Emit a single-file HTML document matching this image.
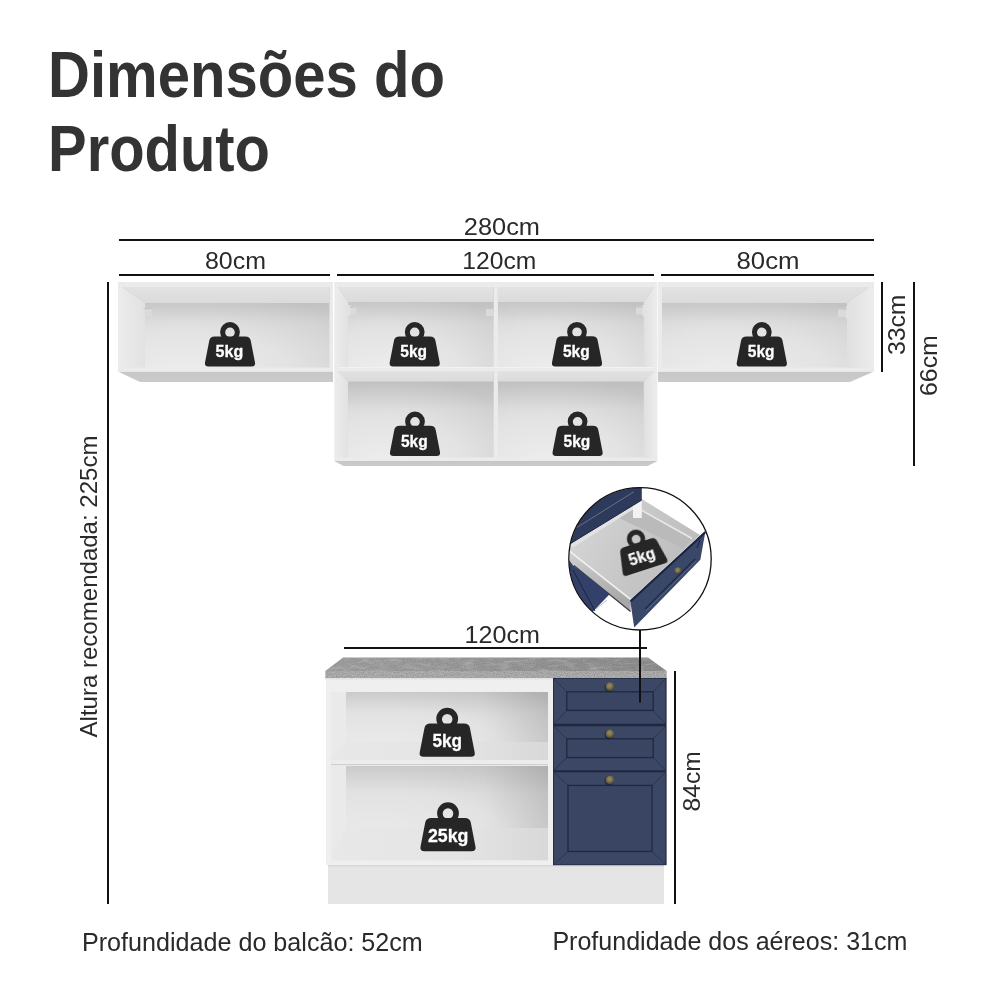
<!DOCTYPE html>
<html><head><meta charset="utf-8">
<style>
html,body{margin:0;padding:0;background:#fff;width:1000px;height:1000px;overflow:hidden}
svg{display:block;will-change:transform}
text{font-family:"Liberation Sans",sans-serif}
</style></head>
<body>
<svg width="1000" height="1000" viewBox="0 0 1000 1000">
<defs>
  <symbol id="wt" overflow="visible">
    <path fill="#262626" d="M -15.3,-30.2 L 15.3,-30.2 Q 19.9,-30.2 20.7,-26 L 25,-4 Q 25.7,0 21.5,0 L -21.5,0 Q -25.7,0 -25,-4 L -20.7,-26 Q -19.9,-30.2 -15.3,-30.2 Z"/>
    <path fill="#262626" fill-rule="evenodd" d="M -9.9,-34.6 A 9.9 9.9 0 1 1 9.9,-34.6 A 9.9 9.9 0 1 1 -9.9,-34.6 Z M -4.8,-34.2 A 4.8 4.8 0 1 1 4.8,-34.2 A 4.8 4.8 0 1 1 -4.8,-34.2 Z"/>
  </symbol>
  <radialGradient id="backA" cx="0.3" cy="1.05" r="1.0">
    <stop offset="0" stop-color="#ededed"/><stop offset="0.5" stop-color="#e3e3e3"/><stop offset="1" stop-color="#cdcdcd"/>
  </radialGradient>
  <linearGradient id="backTop" x1="0" y1="0" x2="0" y2="1">
    <stop offset="0" stop-color="#000" stop-opacity="0.1"/><stop offset="0.45" stop-color="#000" stop-opacity="0"/>
  </linearGradient>
  <linearGradient id="ceil" x1="0" y1="0" x2="0" y2="1">
    <stop offset="0" stop-color="#e2e2e2"/><stop offset="1" stop-color="#dbdbdb"/>
  </linearGradient>
  <linearGradient id="sideL" x1="0" y1="0" x2="1" y2="0">
    <stop offset="0" stop-color="#eaeaea"/><stop offset="1" stop-color="#e2e2e2"/>
  </linearGradient>
  <linearGradient id="sideR" x1="1" y1="0" x2="0" y2="0">
    <stop offset="0" stop-color="#eaeaea"/><stop offset="1" stop-color="#e0e0e0"/>
  </linearGradient>
  <linearGradient id="under" x1="0" y1="0" x2="0" y2="1">
    <stop offset="0" stop-color="#c6c6c6"/><stop offset="1" stop-color="#cbcbcb"/>
  </linearGradient>
  <linearGradient id="ctop" x1="0" y1="0" x2="1" y2="0">
    <stop offset="0" stop-color="#a0a0a0"/><stop offset="0.5" stop-color="#989898"/><stop offset="1" stop-color="#8c8c8c"/>
  </linearGradient>
  <linearGradient id="cfront" x1="0" y1="0" x2="1" y2="0">
    <stop offset="0" stop-color="#ababab"/><stop offset="1" stop-color="#aaaaaa"/>
  </linearGradient>
  <radialGradient id="backD" cx="0.2" cy="0.9" r="1.15">
    <stop offset="0" stop-color="#ececec"/><stop offset="0.55" stop-color="#e2e2e2"/><stop offset="1" stop-color="#c9c9c9"/>
  </radialGradient>
  <linearGradient id="floorD" x1="0" y1="0" x2="1" y2="0">
    <stop offset="0" stop-color="#e8e8e8"/><stop offset="0.6" stop-color="#e4e4e4"/><stop offset="1" stop-color="#d8d8d8"/>
  </linearGradient>
  <linearGradient id="rdark" x1="0" y1="0" x2="1" y2="0">
    <stop offset="0.7" stop-color="#000" stop-opacity="0"/><stop offset="1" stop-color="#000" stop-opacity="0.08"/>
  </linearGradient>
  <radialGradient id="knob" cx="0.45" cy="0.4" r="0.6">
    <stop offset="0" stop-color="#9a8f68"/><stop offset="0.55" stop-color="#7a6f4b"/><stop offset="1" stop-color="#4a432c"/>
  </radialGradient>
  <linearGradient id="dfloor" x1="0" y1="0" x2="1" y2="0.4">
    <stop offset="0" stop-color="#d8d8d8"/><stop offset="0.5" stop-color="#cacaca"/><stop offset="1" stop-color="#bdbdbd"/>
  </linearGradient>
  <linearGradient id="dwall" x1="0" y1="0" x2="0.3" y2="1">
    <stop offset="0" stop-color="#d0d0d0"/><stop offset="1" stop-color="#a8a8a8"/>
  </linearGradient>
  <filter id="noise" x="0" y="0" width="1" height="1">
    <feTurbulence type="fractalNoise" baseFrequency="0.9" numOctaves="2" seed="3" result="n"/>
    <feColorMatrix in="n" type="matrix" values="0 0 0 0 0  0 0 0 0 0  0 0 0 0 0  0 0 0 0.35 -0.12" result="a"/>
    <feComposite in="a" in2="SourceAlpha" operator="in"/>
  </filter>
  <filter id="noise2" x="0" y="0" width="1" height="1">
    <feTurbulence type="fractalNoise" baseFrequency="0.9" numOctaves="2" seed="7" result="n"/>
    <feColorMatrix in="n" type="matrix" values="0 0 0 0 1  0 0 0 0 1  0 0 0 0 1  0 0 0 0.4 -0.15" result="a"/>
    <feComposite in="a" in2="SourceAlpha" operator="in"/>
  </filter>
  <filter id="blotch" x="0" y="0" width="1" height="1">
    <feTurbulence type="fractalNoise" baseFrequency="0.08 0.3" numOctaves="3" seed="11" result="n"/>
    <feColorMatrix in="n" type="matrix" values="0 0 0 0 1  0 0 0 0 1  0 0 0 0 1  0 0 0 0.9 -0.4" result="a"/>
    <feComposite in="a" in2="SourceAlpha" operator="in"/>
  </filter>
  <filter id="blur1" x="-0.2" y="-0.2" width="1.4" height="1.4"><feGaussianBlur stdDeviation="0.45"/></filter>
  <clipPath id="circ"><circle cx="640" cy="558.8" r="71"/></clipPath>
</defs>

<!-- Title -->
<text x="48" y="97" font-size="64" font-weight="bold" fill="#333" textLength="397" lengthAdjust="spacingAndGlyphs">Dimensões do</text>
<text x="48" y="171" font-size="64" font-weight="bold" fill="#333" textLength="222" lengthAdjust="spacingAndGlyphs">Produto</text>

<!-- dimension lines -->
<g fill="#111">
  <rect x="119" y="239" width="755" height="2"/>
  <rect x="119" y="274" width="211" height="2"/>
  <rect x="337" y="274" width="317" height="2"/>
  <rect x="661" y="274" width="213" height="2"/>
  <rect x="881" y="282" width="2" height="90"/>
  <rect x="913" y="282" width="2" height="184"/>
  <rect x="107" y="282" width="2" height="622"/>
  <rect x="344" y="647" width="303" height="2"/>
  <rect x="674" y="671" width="2" height="233"/>
</g>

<!-- dimension labels -->
<g fill="#2a2a2a" font-size="24">
  <text x="463.8" y="234.5" textLength="76.2" lengthAdjust="spacingAndGlyphs">280cm</text>
  <text x="205" y="269.3" textLength="61" lengthAdjust="spacingAndGlyphs">80cm</text>
  <text x="462.3" y="269" textLength="74" lengthAdjust="spacingAndGlyphs">120cm</text>
  <text x="736.5" y="269" textLength="63" lengthAdjust="spacingAndGlyphs">80cm</text>
  <text x="464.6" y="642.6" textLength="75.4" lengthAdjust="spacingAndGlyphs">120cm</text>
  <text transform="translate(904.6,355) rotate(-90)" textLength="60.4" lengthAdjust="spacingAndGlyphs">33cm</text>
  <text transform="translate(936.6,396) rotate(-90)" textLength="60.8" lengthAdjust="spacingAndGlyphs">66cm</text>
  <text transform="translate(700,811.5) rotate(-90)" textLength="60.2" lengthAdjust="spacingAndGlyphs">84cm</text>
</g>
<text transform="translate(97,737.5) rotate(-90)" font-size="24" fill="#2a2a2a" textLength="302" lengthAdjust="spacingAndGlyphs">Altura recomendada: 225cm</text>
<text x="82" y="950.6" font-size="25" fill="#2a2a2a" textLength="340.8" lengthAdjust="spacingAndGlyphs">Profundidade do balcão: 52cm</text>
<text x="552.4" y="949.6" font-size="25" fill="#2a2a2a" textLength="355" lengthAdjust="spacingAndGlyphs">Profundidade dos aéreos: 31cm</text>

<!-- Cabinet A (left wall) -->
<g>
  <polygon points="118,371.5 333,371.5 333,382 140,382" fill="url(#under)"/>
  <rect x="118" y="282" width="215" height="89.5" fill="#ebebeb"/>
  <rect x="122" y="287" width="207.5" height="80.5" fill="url(#backA)"/>
  <rect x="122" y="287" width="207.5" height="80.5" fill="url(#backTop)"/>
  <polygon points="122,287 329.5,287 329.5,303 145,303" fill="url(#ceil)"/>
  <polygon points="122,287 145,303 145,367.5 122,367.5" fill="url(#sideL)"/>
</g>
<!-- Cabinet B (middle) -->
<g>
  <polygon points="334.3,461 657.4,461 647.6,466 343.6,466" fill="url(#under)"/>
  <rect x="334.3" y="282" width="323.1" height="179" fill="#ebebeb"/>
  <rect x="338" y="287" width="155.7" height="80" fill="url(#backA)"/>
  <rect x="338" y="287" width="155.7" height="80" fill="url(#backTop)"/>
  <polygon points="338,287 493.7,287 493.7,302 348,302" fill="url(#ceil)"/>
  <polygon points="338,287 348,302 348,367 338,367" fill="url(#sideL)"/>
  <rect x="497.9" y="287" width="156.1" height="80" fill="url(#backA)"/>
  <rect x="497.9" y="287" width="156.1" height="80" fill="url(#backTop)"/>
  <polygon points="497.9,287 654,287 643.8,302 497.9,302" fill="url(#ceil)"/>
  <polygon points="654,287 643.8,302 643.8,367 654,367" fill="url(#sideR)"/>
  <rect x="338" y="371" width="155.7" height="86.4" fill="url(#backA)"/>
  <rect x="338" y="371" width="155.7" height="86.4" fill="url(#backTop)"/>
  <polygon points="338,371 493.7,371 493.7,381.4 348,381.4" fill="url(#ceil)"/>
  <polygon points="338,371 348,381.4 348,457.4 338,457.4" fill="url(#sideL)"/>
  <rect x="497.9" y="371" width="156.1" height="86.4" fill="url(#backA)"/>
  <rect x="497.9" y="371" width="156.1" height="86.4" fill="url(#backTop)"/>
  <polygon points="497.9,371 654,371 643.8,381.4 497.9,381.4" fill="url(#ceil)"/>
  <polygon points="654,371 643.8,381.4 643.8,457.4 654,457.4" fill="url(#sideR)"/>
  <rect x="338" y="367" width="316" height="1" fill="#f2f2f2"/>
</g>
<!-- Cabinet C (right wall) -->
<g>
  <polygon points="658,371.5 874,371.5 850,382 658,382" fill="url(#under)"/>
  <rect x="658" y="282" width="216" height="89.5" fill="#ebebeb"/>
  <rect x="662" y="287" width="207" height="80.5" fill="url(#backA)"/>
  <rect x="662" y="287" width="207" height="80.5" fill="url(#backTop)"/>
  <polygon points="662,287 869,287 847,303 662,303" fill="url(#ceil)"/>
  <polygon points="869,287 847,303 847,367.5 869,367.5" fill="url(#sideR)"/>
</g>

<!-- shelf brackets -->
<g>
  <rect x="143.5" y="308" width="9" height="8.5" fill="#dadada"/><rect x="141" y="306" width="3.5" height="12" fill="#e2e2e2"/><rect x="143.5" y="308" width="9" height="1.2" fill="#c6c6c6"/>
  <rect x="838" y="308.5" width="9" height="8.5" fill="#dadada"/><rect x="846" y="306.5" width="3.5" height="12" fill="#e2e2e2"/><rect x="838" y="308.5" width="9" height="1.2" fill="#c6c6c6"/>
  <rect x="349.5" y="306.5" width="7" height="8" fill="#dadada"/><rect x="347.5" y="305" width="3" height="11" fill="#e2e2e2"/><rect x="349.5" y="306.5" width="7" height="1.1" fill="#c6c6c6"/>
  <rect x="486" y="308" width="7.5" height="8" fill="#dadada"/><rect x="486" y="308" width="7.5" height="1.1" fill="#c6c6c6"/>
  <rect x="636" y="306.5" width="7" height="8" fill="#dadada"/><rect x="642.5" y="305" width="3" height="11" fill="#e2e2e2"/><rect x="636" y="306.5" width="7" height="1.1" fill="#c6c6c6"/>
</g>
<!-- Base cabinet D -->
<g>
  <rect x="328" y="865" width="336" height="39" fill="#e5e5e5"/>
  <rect x="328" y="865" width="336" height="1.5" fill="#d8d8d8"/>
  <polygon points="343,657.5 648,657.5 666.7,671 325.3,671" fill="url(#ctop)"/>
  <polygon points="343,657.5 648,657.5 666.7,671 325.3,671" fill="#000" filter="url(#blotch)" opacity="0.6"/>
  <polygon points="343,657.5 648,657.5 666.7,671 325.3,671" fill="#000" filter="url(#noise)" opacity="0.6"/>
  <rect x="325.3" y="671" width="341.4" height="7.5" fill="url(#cfront)"/>
  <rect x="325.3" y="671" width="341.4" height="7.5" fill="#000" filter="url(#noise)"/>
  <rect x="325.3" y="671" width="341.4" height="7.5" fill="#000" filter="url(#noise2)"/>
  <rect x="326" y="678" width="228" height="187" fill="#efefef"/>
  <rect x="326" y="678" width="228" height="1.5" fill="#e2e2e2"/>
  <!-- upper cell -->
  <rect x="331" y="692" width="217" height="68" fill="url(#backD)"/>
  <rect x="331" y="692" width="217" height="68" fill="url(#rdark)"/>
  <rect x="346" y="692" width="202" height="50" fill="url(#backTop)" opacity="0.5"/>
  <polygon points="346,742 548,742 548,760 331,760" fill="url(#floorD)"/>
  <polygon points="331,692 346,692 346,742 331,760" fill="#eaeaea"/>
  <rect x="331" y="760" width="217" height="4" fill="#ececec"/>
  <rect x="331" y="764" width="217" height="1.2" fill="#cfcfcf"/>
  <!-- lower cell -->
  <rect x="331" y="766" width="217" height="92" fill="url(#backD)"/>
  <rect x="331" y="766" width="217" height="92" fill="url(#rdark)"/>
  <rect x="346" y="766" width="202" height="62" fill="url(#backTop)" opacity="0.5"/>
  <polygon points="346,828 548,828 548,860.5 331,860.5" fill="url(#floorD)"/>
  <polygon points="331,766 346,766 346,828 331,858" fill="#eaeaea"/>
  <rect x="331" y="860.5" width="217" height="1" fill="#eeeeee"/>
  <!-- drawers -->
  <rect x="553" y="678" width="113.5" height="187" fill="#1c2439"/>
  <g stroke="#26304b" stroke-width="0.8">
    <rect x="553.6" y="678.4" width="112.2" height="45.6" fill="#3b4765"/>
    <line x1="553.6" y1="678.4" x2="566.8" y2="691.8"/><line x1="665.8" y1="678.4" x2="653.2" y2="691.8"/>
    <line x1="553.6" y1="724" x2="566.8" y2="710.4"/><line x1="665.8" y1="724" x2="653.2" y2="710.4"/>
    <rect x="566.8" y="691.8" width="86.4" height="18.6" fill="#394563" stroke="#1f2840" stroke-width="1.3"/>
    <rect x="553.6" y="726" width="112.2" height="44.4" fill="#3b4765"/>
    <line x1="553.6" y1="726" x2="566.8" y2="738.8"/><line x1="665.8" y1="726" x2="653.2" y2="738.8"/>
    <line x1="553.6" y1="770.4" x2="566.8" y2="757.6"/><line x1="665.8" y1="770.4" x2="653.2" y2="757.6"/>
    <rect x="566.8" y="738.8" width="86.4" height="18.8" fill="#394563" stroke="#1f2840" stroke-width="1.3"/>
    <rect x="553.6" y="772" width="112.2" height="92.8" fill="#3b4765"/>
    <line x1="553.6" y1="772" x2="568" y2="785.4"/><line x1="665.8" y1="772" x2="652" y2="785.4"/>
    <line x1="553.6" y1="864.8" x2="568" y2="851.5"/><line x1="665.8" y1="864.8" x2="652" y2="851.5"/>
    <rect x="568" y="785.4" width="84" height="66.1" fill="#394563" stroke="#1f2840" stroke-width="1.3"/>
  </g>
  <g fill="#1a2034" opacity="0.6">
    <circle cx="609" cy="687.6" r="4.6"/><circle cx="609" cy="734.8" r="4.6"/><circle cx="609" cy="781" r="4.6"/>
  </g>
  <circle cx="610" cy="686.6" r="4.3" fill="url(#knob)"/>
  <circle cx="610" cy="733.8" r="4.3" fill="url(#knob)"/>
  <circle cx="610" cy="780" r="4.3" fill="url(#knob)"/>
</g>

<!-- leader -->
<rect x="639" y="630" width="2" height="72.6" fill="#111"/>

<!-- Drawer zoom circle -->
<g clip-path="url(#circ)">
  <rect x="560" y="480" width="160" height="160" fill="#fff"/>
  <!-- drawer box floor / interior -->
  <polygon points="569.8,545 641.8,499 700,535 630.6,599.4 569.8,551.4" fill="url(#dfloor)"/>
  <polygon points="637.2,507.9 691.6,538.3 683.4,548.8 617.6,517.3" fill="#bababa"/>
  <line x1="637.2" y1="507.9" x2="692" y2="538.5" stroke="#e8e8e8" stroke-width="1.6"/>
  <polygon points="570,543.5 641.8,500 641.8,504 572,548" fill="#e2e2e2"/>
  <polygon points="633,500 641.8,500 641.8,518 633,518" fill="#f2f2f2"/>
  <!-- left wall outer face -->
  <polygon points="569.8,551.4 630.6,599.4 630.6,611 573.8,565 569.8,561" fill="url(#dwall)"/>
  <line x1="569.8" y1="551.4" x2="630.6" y2="599.4" stroke="#f0f0f0" stroke-width="1.8"/>
  <line x1="573.8" y1="565.5" x2="630.6" y2="611.5" stroke="#3a3a3a" stroke-width="1.3"/>
  <!-- upper blue drawer -->
  <polygon points="560,480 641.8,480 641.8,500 570.6,543.5 560,549" fill="#2e3a5c"/>
  <line x1="641.8" y1="500" x2="570.6" y2="543.5" stroke="#1c2540" stroke-width="1"/>
  <line x1="633.8" y1="491.8" x2="577" y2="527.4" stroke="#80869a" stroke-width="0.7"/>
  <!-- lower-left blue -->
  <polygon points="560,556 569.8,561 573.8,566 609.8,594 593,611.4 560,640" fill="#33416a"/>
  <line x1="573" y1="570" x2="595" y2="611" stroke="#1c2540" stroke-width="1"/>
  <line x1="607" y1="600" x2="596" y2="609" stroke="#8a90a0" stroke-width="0.6"/>
  <!-- drawer front -->
  <polygon points="630.2,600.5 705.5,531 700.3,559.7 634.2,627.5" fill="#394769"/>
  <line x1="630.6" y1="601.3" x2="705.5" y2="532" stroke="#1b2442" stroke-width="2.2"/>
  <line x1="645" y1="609" x2="695" y2="559" stroke="#1f2845" stroke-width="1.1"/>
  <line x1="646" y1="611" x2="696" y2="561" stroke="#6a7490" stroke-width="0.6"/>
  <line x1="697" y1="548" x2="700" y2="540" stroke="#1f2845" stroke-width="1.2"/>
  <circle cx="677.9" cy="570.6" r="3.3" fill="url(#knob)"/>
  <g transform="translate(646,569.5) rotate(-18) scale(0.93)" filter="url(#blur1)">
    <use href="#wt"/>
    <text x="-14.5" y="-9" fill="#fff" font-size="18" font-weight="bold" textLength="29" lengthAdjust="spacingAndGlyphs">5kg</text>
  </g>
</g>
<circle cx="640" cy="558.8" r="71.2" fill="none" stroke="#111" stroke-width="1.3"/>

<!-- weights -->
<use href="#wt" x="230" y="366.6"/>
<use href="#wt" x="414.7" y="366.6"/>
<use href="#wt" x="577" y="366.4"/>
<use href="#wt" x="415" y="456"/>
<use href="#wt" x="577.6" y="456"/>
<use href="#wt" x="761.8" y="366.6"/>
<g fill="#fff" stroke="#fff" stroke-width="0.3" font-size="17" font-weight="bold">
  <text x="215.6" y="356.6" textLength="27.6" lengthAdjust="spacingAndGlyphs">5kg</text>
  <text x="400.3" y="357" textLength="26.7" lengthAdjust="spacingAndGlyphs">5kg</text>
  <text x="563" y="357" textLength="26.7" lengthAdjust="spacingAndGlyphs">5kg</text>
  <text x="401" y="446.5" textLength="26.7" lengthAdjust="spacingAndGlyphs">5kg</text>
  <text x="563.6" y="446.5" textLength="26.7" lengthAdjust="spacingAndGlyphs">5kg</text>
  <text x="747.8" y="357" textLength="26.7" lengthAdjust="spacingAndGlyphs">5kg</text>
</g>
<g transform="translate(447.2,756.8) scale(1.1)"><use href="#wt"/></g>
<g transform="translate(448,851.2) scale(1.1)"><use href="#wt"/></g>
<g fill="#fff" stroke="#fff" stroke-width="0.3" font-weight="bold" font-size="18.7">
  <text x="432.4" y="746.7" textLength="29.5" lengthAdjust="spacingAndGlyphs">5kg</text>
  <text x="427.9" y="841.6" textLength="40.5" lengthAdjust="spacingAndGlyphs">25kg</text>
</g>

</svg>
</body></html>
